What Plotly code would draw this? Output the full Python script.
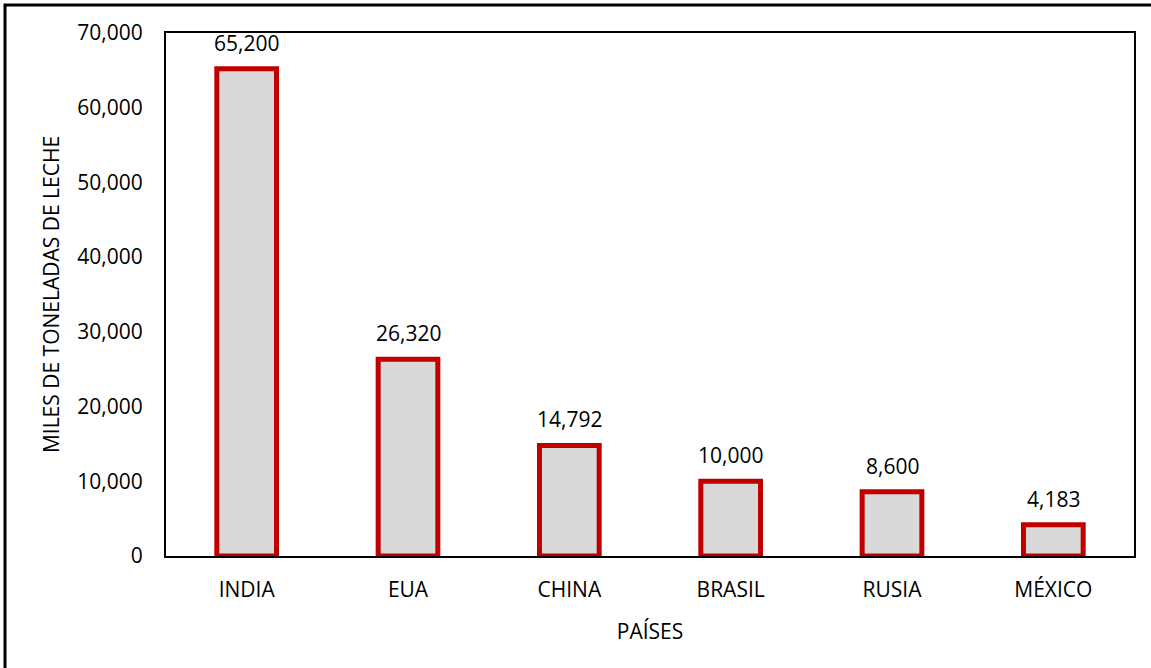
import plotly.graph_objects as go

paises = ["INDIA", "EUA", "CHINA", "BRASIL", "RUSIA", "MÉXICO"]
toneladas = [65200, 26320, 14792, 10000, 8600, 4183]
y_ticks = [0, 10000, 20000, 30000, 40000, 50000, 60000, 70000]

FONT = "Open Sans"
FS = 21
W, H = 1151, 668
L, R, T, B = 166, 17, 33, 112
pw, ph = W - L - R, H - T - B

fig = go.Figure()
fig.add_trace(go.Bar(
    x=paises, y=toneladas,
    marker=dict(color="#d9d9d9", line=dict(color="#c00000", width=5)),
    hoverinfo="x+y",
))

for p, v in zip(paises, toneladas):
    fig.add_annotation(x=p, y=v, text=f"{v:,}", showarrow=False,
                       yanchor="bottom", yshift=10,
                       font=dict(family=FONT, size=FS, color="#000"))

def px_to_paper_x(px):
    return (px - L) / pw

def py_to_paper_y(py):
    return (H - B - py) / ph

fig.add_shape(type="rect", xref="paper", yref="paper",
              x0=px_to_paper_x(5), x1=px_to_paper_x(1170),
              y0=py_to_paper_y(690), y1=py_to_paper_y(5),
              line=dict(color="#000", width=3), layer="below")

fig.update_layout(
    width=W, height=H,
    margin=dict(l=L, r=R, t=T, b=B),
    paper_bgcolor="white", plot_bgcolor="white",
    bargap=0.63,
    showlegend=False,
    font=dict(family=FONT, size=FS, color="#000"),
    xaxis=dict(
        showline=True, linecolor="#000", linewidth=2, mirror=True,
        ticks="", tickfont=dict(size=FS), ticklabelstandoff=14,
        title=dict(text="PAÍSES", font=dict(size=FS), standoff=22),
    ),
    yaxis=dict(
        range=[0, 70000], tickvals=y_ticks, tickformat=",",
        showline=True, linecolor="#000", linewidth=2, mirror=True,
        showgrid=False, zeroline=False, ticks="",
        tickfont=dict(size=FS), ticklabelstandoff=17,
        title=dict(text="MILES DE TONELADAS DE LECHE", font=dict(size=FS), standoff=12),
    ),
)

fig.write_html("out.html")
